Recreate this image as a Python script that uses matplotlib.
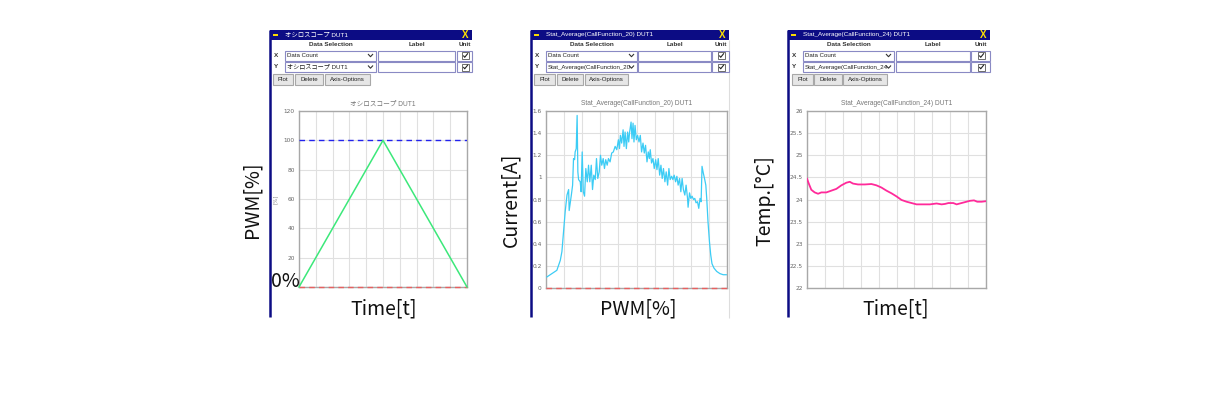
import matplotlib
matplotlib.use('Agg')
import matplotlib.pyplot as plt
from matplotlib.patches import Rectangle
from matplotlib.lines import Line2D

W, H = 1222, 395

# ---------------- data ----------------
pwm_x = [0, 50, 100]
pwm_y = [0, 100, 0]
pwm_upper = 100
pwm_lower = 0

cur_x = [0.5, 6, 7.9, 8.8, 9.7, 10.6, 11.6, 12.5, 12.8, 14, 14.7, 15.2, 15.8, 16.1, 16.7, 17.2,
         17.6, 18, 18.9, 19.4, 20, 20.6, 21.3, 22, 22.8, 23.5, 24.2, 25, 25.7, 26.4, 27.2, 27.9,
         28.6, 29.4, 30.1, 30.8, 31.6, 32.3, 33, 33.8, 34.5, 35.4, 36.3, 37.2, 38.2, 39.1, 40,
         40.6, 41.1, 41.8, 42.6, 43.1, 43.7, 44.4, 45.1, 45.7, 46.2, 47, 47.5, 48.1, 48.6, 49.2,
         49.9, 50.6, 51.4, 52.1, 52.8, 53.6, 54.3, 55, 55.8, 56.5, 57.1, 57.6, 58.3, 59.1, 59.8,
         60.6, 61.3, 62, 62.8, 63.5, 64.2, 64.9, 65.7, 66.4, 67.2, 67.9, 68.6, 69.4, 70.1, 70.8,
         71.6, 72.3, 73, 73.8, 74.5, 75.2, 75.9, 76.7, 77.4, 78.2, 78.5, 79.3, 80, 80.7, 81.5,
         82.2, 82.9, 83.7, 84.4, 85.1, 85.7, 86.2, 86.9, 87.7, 88.3, 88.8, 89.5, 90.3, 91, 91.7,
         92.8, 94.3, 96.1, 97.9, 99.6]
cur_y = [0.10, 0.16, 0.25, 0.33, 0.51, 0.69, 0.84, 0.89, 0.70, 0.84, 0.93, 1.17, 1.16, 1.23, 1.26, 1.56,
         1.05, 0.98, 0.96, 0.87, 1.23, 0.87, 0.83, 1.08, 0.96, 1.11, 0.96, 1.11, 0.89, 1.02, 0.98, 1.17,
         0.99, 1.05, 1.20, 1.11, 1.17, 1.08, 1.16, 1.11, 1.17, 1.14, 1.22, 1.23, 1.28, 1.25, 1.34,
         1.26, 1.38, 1.31, 1.43, 1.28, 1.41, 1.26, 1.41, 1.32, 1.41, 1.50, 1.35, 1.49, 1.32, 1.47,
         1.34, 1.38, 1.32, 1.38, 1.23, 1.31, 1.22, 1.29, 1.14, 1.23, 1.17, 1.25, 1.13, 1.17, 1.08,
         1.16, 1.07, 1.17, 1.02, 1.11, 0.99, 1.08, 0.96, 1.05, 0.93, 1.08, 0.98, 1.01, 0.98, 1.02,
         0.96, 1.01, 0.93, 0.99, 0.87, 0.99, 0.89, 0.84, 0.93, 0.81, 0.73, 0.86, 0.81, 0.83, 0.80,
         0.81, 0.77, 0.78, 0.72, 0.81, 0.78, 1.10, 1.04, 0.98, 0.93, 0.81, 0.60, 0.42, 0.30, 0.22,
         0.18, 0.15, 0.13, 0.12, 0.12]
cur_ref = 0

temp_x = [0, 1.1, 2.4, 4.3, 6.2, 8, 10.8, 13.6, 16.4, 19.2, 22, 23.9, 25.7, 28.5, 32.3, 36, 38.8,
          41.6, 44.4, 47.2, 50, 52.8, 55.6, 58.4, 61.2, 64.9, 68.7, 72.4, 75.2, 77.1, 79, 81.7,
          83.6, 85.4, 88.2, 91, 93.3, 95.1, 97.6, 99.6]
temp_y = [24.47, 24.35, 24.22, 24.16, 24.13, 24.16, 24.16, 24.20, 24.24, 24.32, 24.38, 24.40, 24.36,
          24.34, 24.34, 24.35, 24.32, 24.27, 24.20, 24.14, 24.07, 23.99, 23.95, 23.92, 23.89, 23.89,
          23.89, 23.91, 23.89, 23.90, 23.92, 23.92, 23.89, 23.91, 23.94, 23.97, 23.98, 23.95, 23.95,
          23.96]

pwm_ticks = [0, 20, 40, 60, 80, 100, 120]
pwm_ticklabels = ['', '20', '40', '60', '80', '100', '120']   # '0' is hidden under the "0%" overlay
cur_ticks = [0, 0.2, 0.4, 0.6, 0.8, 1.0, 1.2, 1.4, 1.6]
cur_ticklabels = ['0', '0.2', '0.4', '0.6', '0.8', '1', '1.2', '1.4', '1.6']
temp_ticks = [22, 22.5, 23, 23.5, 24, 24.5, 25, 25.5, 26]
temp_ticklabels = ['22', '22.5', '23', '23.5', '24', '24.5', '25', '25.5', '26']

titles = ['オシロスコープ DUT1', 'Stat_Average(CallFunction_20) DUT1', 'Stat_Average(CallFunction_24) DUT1']
y_selections = ['オシロスコープ DUT1', 'Stat_Average(CallFunction_20', 'Stat_Average(CallFunction_24']
x_selection = 'Data Count'
big_ylabels = ['PWM[%]', 'Current[A]', 'Temp.[°C]']
big_xlabels = ['Time[t]', 'PWM[%]', 'Time[t]']

# ---------------- styles ----------------
UI = ['Liberation Sans', 'Noto Sans CJK JP', 'DejaVu Sans']
BIG = ['Noto Sans CJK JP', 'DejaVu Sans']
NAVY = '#0c0c84'

fig = plt.figure(figsize=(W / 100, H / 100), dpi=100)
bg = fig.add_axes([0, 0, 1, 1])
bg.set_xlim(0, W)
bg.set_ylim(H, 0)
bg.axis('off')


def rect(x0, y0, x1, y1, fc='none', ec='none', lw=0.8, z=1):
    bg.add_patch(Rectangle((x0, y0), x1 - x0, y1 - y0, facecolor=fc, edgecolor=ec, lw=lw, zorder=z))


def line(xs, ys, c, lw=1.0, z=3):
    bg.add_line(Line2D(xs, ys, color=c, lw=lw, zorder=z, solid_capstyle='butt'))


def txt(x, y, s, size=5, c='#222222', ha='left', weight='normal', fam=UI, rot=0, va='center'):
    bg.text(x, y, s, fontsize=size, color=c, ha=ha, va=va, fontweight=weight, family=fam, rotation=rot, zorder=5)


panels = [
    dict(left=270, right=472, combo=285, label=(378, 455), unit=(457, 472),
         btns=[(273, 293, 'Plot'), (295, 323, 'Delete'), (325, 370, 'Axis-Options')],
         ax=(299, 111, 467, 287)),
    dict(left=531, right=729, combo=546, label=(638, 711), unit=(712, 729),
         btns=[(534, 555, 'Plot'), (557, 583, 'Delete'), (585, 628, 'Axis-Options')],
         ax=(546, 111, 727, 288)),
    dict(left=788, right=990, combo=803, label=(896, 970), unit=(971, 990),
         btns=[(792, 813, 'Plot'), (814, 842, 'Delete'), (843, 887, 'Axis-Options')],
         ax=(807, 111, 986, 288)),
]

big_ylabel_pos = [(252, 200), (511, 200), (765, 201)]
big_xlabel_pos = [(384, 309), (638, 309), (896, 309)]

for i, p in enumerate(panels):
    L, R = p['left'], p['right']
    # left border
    line([L, L], [30, 317], NAVY, lw=1.8, z=4)
    # title bar
    rect(L, 30, R, 39.5, fc=NAVY, z=2)
    line([L + 3, L + 8], [34.8, 34.8], '#ffe000', lw=1.4, z=4)
    txt(L + 15, 34.8, titles[i], size=4.6, c='white')
    txt(R - 6.5, 35, 'X', size=7, c='#ffe400', ha='center', weight='bold', fam=['Liberation Sans'])
    # header
    cl = p['combo']
    cr = cl + 91
    lb0, lb1 = p['label']
    u0, u1 = p['unit']
    txt((cl + cr) / 2, 44, 'Data Selection', size=4.6, c='#333333', ha='center', weight='bold')
    txt((lb0 + lb1) / 2, 44, 'Label', size=4.6, c='#333333', ha='center', weight='bold')
    txt((u0 + u1) / 2, 44, 'Unit', size=4.6, c='#333333', ha='center', weight='bold')
    for (y0, y1, axis_name, sel) in [(50.5, 60.5, 'X', x_selection), (62, 72, 'Y', y_selections[i])]:
        yc = (y0 + y1) / 2
        txt(cl - 9, yc, axis_name, size=4.6, c='#333333', ha='center', weight='bold')
        rect(cl, y0, cr, y1, fc='white', ec='#8a8ac4', lw=0.8, z=2)
        bg.text(cl + 2, yc, sel, fontsize=4.4, color='#222222', ha='left', va='center',
                family=UI, zorder=5, clip_on=True,
                clip_box=matplotlib.transforms.Bbox.from_extents(
                    bg.transData.transform((cl, y1))[0], bg.transData.transform((cl, y1))[1],
                    bg.transData.transform((cr - 9, y0))[0], bg.transData.transform((cr - 9, y0))[1]))
        line([cr - 8, cr - 5.5, cr - 3], [yc - 1.5, yc + 1.2, yc - 1.5], '#333333', lw=0.8, z=4)
        rect(lb0, y0, lb1, y1, fc='white', ec='#8a8ac4', lw=0.8, z=2)
        rect(u0, y0, u1, y1, fc='white', ec='#8a8ac4', lw=0.8, z=2)
        uc = (u0 + u1) / 2 + 1
        rect(uc - 3.5, yc - 3.5, uc + 3.5, yc + 3.5, fc='white', ec='#555555', lw=0.6, z=3)
        line([uc - 2.2, uc - 0.8, uc + 2.4], [yc, yc + 1.8, yc - 2.2], '#222222', lw=0.8, z=4)
    for (b0, b1, name) in p['btns']:
        rect(b0, 74, b1, 84.5, fc='#e6e6e6', ec='#a8a8a8', lw=0.8, z=2)
        txt((b0 + b1) / 2, 79.3, name, size=4.4, c='#222222', ha='center')

    # plot axes
    a0, t0, a1, b0_ = p['ax']
    ax = fig.add_axes([a0 / W, 1 - b0_ / H, (a1 - a0) / W, (b0_ - t0) / H], zorder=3)
    ax.set_facecolor('white')
    ax.set_xlim(0, 100)
    ax.set_xticks([0, 10, 20, 30, 40, 50, 60, 70, 80, 90, 100])
    ax.set_xticklabels([])
    ax.grid(True, color='#e0e0e0', lw=0.8)
    ax.set_axisbelow(True)
    for s in ax.spines.values():
        s.set_color('#a8a8a8')
        s.set_linewidth(1.0)
    ax.tick_params(length=0, pad=3, labelsize=4.2, labelcolor='#666666')
    ax.set_title(titles[i], fontsize=4.8, color='#777777', family=UI, pad=4)

    if i == 0:
        ax.set_ylim(0, 120)
        ax.set_yticks(pwm_ticks)
        ax.set_yticklabels(pwm_ticklabels)
        ax.plot([0, 100], [pwm_upper, pwm_upper], color='#2222ee', lw=1.0, ls=(0, (4, 3)), zorder=4)
        ax.plot([0, 100], [pwm_lower, pwm_lower], color='#e86060', lw=1.0, ls=(0, (4, 3)), zorder=4, clip_on=False)
        ax.plot(pwm_x, pwm_y, color='#3ce87a', lw=1.1, zorder=5, clip_on=False)
        ax.set_ylabel('[%]', fontsize=4, color='#888888', labelpad=4)
    elif i == 1:
        ax.set_ylim(0, 1.6)
        ax.set_yticks(cur_ticks)
        ax.set_yticklabels(cur_ticklabels)
        ax.plot([0, 100], [cur_ref, cur_ref], color='#e86060', lw=1.0, ls=(0, (4, 3)), zorder=4, clip_on=False)
        ax.plot(cur_x, cur_y, color='#3cccf5', lw=0.9, zorder=5)
    else:
        ax.set_ylim(22, 26)
        ax.set_yticks(temp_ticks)
        ax.set_yticklabels(temp_ticklabels)
        ax.plot(temp_x, temp_y, color='#ff2a9a', lw=1.3, zorder=5)

    # big overlay labels
    bx, by = big_ylabel_pos[i]
    txt(bx, by, big_ylabels[i], size=14, c='#111111', ha='center', fam=BIG, rot=90)
    bx, by = big_xlabel_pos[i]
    txt(bx, by, big_xlabels[i], size=14, c='#111111', ha='center', fam=BIG)

# "0%" overlay on first panel
fig.text(285.5 / W, 1 - 281.5 / H, '0%', fontsize=14, color='#111111', ha='center', va='center',
         family=BIG, zorder=10)

# faint window edge on second panel
line([729, 729], [39.5, 318], '#dddddd', lw=0.8, z=1)

fig.savefig('out.png', dpi=100, facecolor='white')
